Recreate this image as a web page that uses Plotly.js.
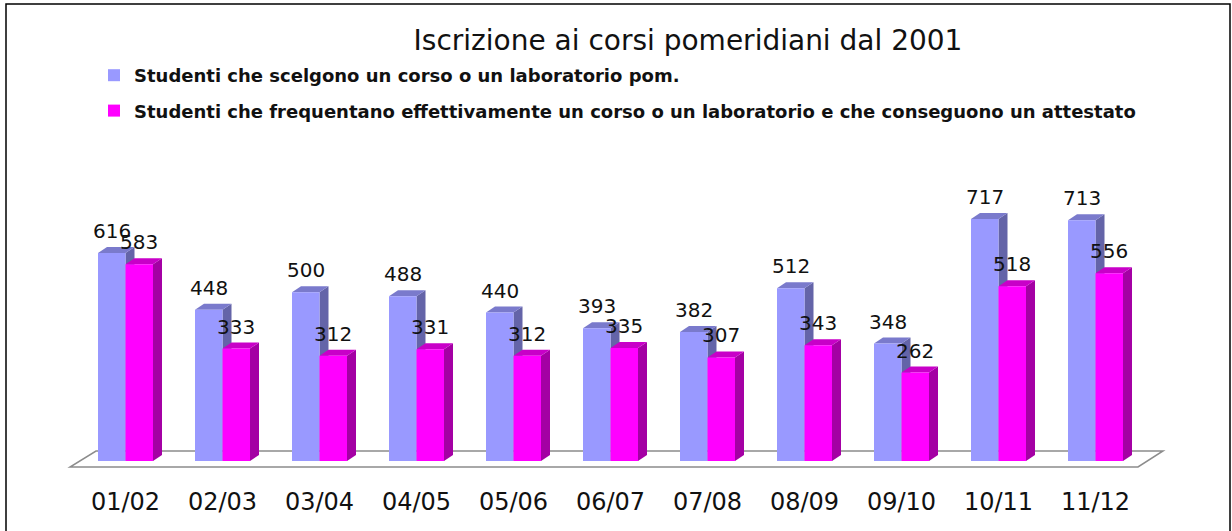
<!DOCTYPE html>
<html><head><meta charset="utf-8">
<script src="https://cdn.plot.ly/plotly-3.0.1.min.js"></script>
<style>html,body{margin:0;padding:0;background:#fff;}#chart{width:1232px;height:531px;}</style>
</head><body><div id="chart"></div>
<script>
const categories = ["01/02","02/03","03/04","04/05","05/06","06/07","07/08","08/09","09/10","10/11","11/12"];
const scelgono = [616,448,500,488,440,393,382,512,348,717,713];
const frequentano = [583,333,312,331,312,335,307,343,262,518,556];
const seriesNames = ["Studenti che scelgono un corso o un laboratorio pom.",
  "Studenti che frequentano effettivamente un corso o un laboratorio e che conseguono un attestato"];
const titleText = "Iscrizione ai corsi pomeridiani dal 2001";

const W = 1232, H = 531;
const ml = 77, mr = 88, mt = 191, mb = 70;
const pw = W - ml - mr, ph = H - mt - mb;
const xr = [-0.5, categories.length - 0.5], yr = [0, 800];
const pxX = pw / (xr[1] - xr[0]), pxY = ph / (yr[1] - yr[0]);
const bargap = 0.433;
const bw = (1 - bargap) / 2;
const dx = 9 / pxX, dy = 6 / pxY;
const idx = categories.map((c, i) => i);

const colors = [
  {front: "#9999FF", side: "#6464A8", top: "#7a7acc"},
  {front: "#FF00FF", side: "#A400A4", top: "#C800C8"}
];

const shapes = [];
const px2paperX = p => (p - ml) / pw, px2paperY = p => (H - mb - p) / ph;
shapes.push({type: "rect", xref: "paper", yref: "paper", layer: "above",
  x0: px2paperX(6), x1: px2paperX(1230), y0: px2paperY(4), y1: px2paperY(545),
  line: {color: "#000", width: 1.5}, fillcolor: "rgba(0,0,0,0)"});
const fl = {fl: px2paperX(70), fr: px2paperX(1138), bl: px2paperX(96), br: px2paperX(1163), fy: px2paperY(467), by: px2paperY(451)};
shapes.push({type: "path", xref: "paper", yref: "paper", layer: "below",
  path: `M${fl.fl},${fl.fy} L${fl.fr},${fl.fy} L${fl.br},${fl.by} L${fl.bl},${fl.by} Z`,
  line: {color: "#8c8c8c", width: 1.5}, fillcolor: "#fff"});

[scelgono, frequentano].forEach((vals, s) => {
  vals.forEach((v, i) => {
    const xl = i - bw + s * bw, xrr = xl + bw;
    shapes.push({type: "path", xref: "x", yref: "y", layer: "below",
      path: `M${xrr},0 L${xrr},${v} L${xrr + dx},${v + dy} L${xrr + dx},${dy} Z`,
      line: {width: 0}, fillcolor: colors[s].side});
    shapes.push({type: "path", xref: "x", yref: "y", layer: "below",
      path: `M${xl},${v} L${xrr},${v} L${xrr + dx},${v + dy} L${xl + dx},${v + dy} Z`,
      line: {width: 0}, fillcolor: colors[s].top});
  });
});

const annotations = [];
[scelgono, frequentano].forEach((vals, s) => {
  vals.forEach((v, i) => {
    annotations.push({x: i - bw / 2 + s * bw, y: v, xref: "x", yref: "y", text: String(v),
      showarrow: false, yanchor: "bottom", xanchor: "center", yshift: 8,
      font: {family: "DejaVu Sans", size: 20, color: "#111"}});
  });
});

const traces = [scelgono, frequentano].map((vals, s) => ({
  type: "bar", x: idx, y: vals, name: seriesNames[s], legendgroup: "g" + s,
  marker: {color: colors[s].front, line: {width: 0}}, hoverinfo: "skip"
}));

const layout = {
  width: W, height: H, margin: {l: ml, r: mr, t: mt, b: mb},
  paper_bgcolor: "#fff", plot_bgcolor: "rgba(0,0,0,0)",
  barmode: "group", bargap: bargap, bargroupgap: 0,
  title: {text: titleText, x: 688 / W, xanchor: "center", y: 1 - 40 / H, yanchor: "middle",
    font: {family: "DejaVu Sans", size: 28, color: "#111"}},
  showlegend: true,
  legend: {x: px2paperX(94), xanchor: "left", y: px2paperY(57), yanchor: "top",
    font: {family: "DejaVu Sans", size: 18, color: "#111", weight: "bold"},
    tracegroupgap: 9, bgcolor: "rgba(0,0,0,0)", itemclick: false},
  xaxis: {range: xr, tickvals: idx, ticktext: categories, showgrid: false, zeroline: false,
    showline: false, ticks: "", ticklabelstandoff: 24,
    tickfont: {family: "DejaVu Sans", size: 24, color: "#111"}, fixedrange: true},
  yaxis: {range: yr, visible: false, showgrid: false, zeroline: false, fixedrange: true},
  shapes: shapes, annotations: annotations
};
Plotly.newPlot("chart", traces, layout, {displayModeBar: false, staticPlot: true});
</script></body></html>
